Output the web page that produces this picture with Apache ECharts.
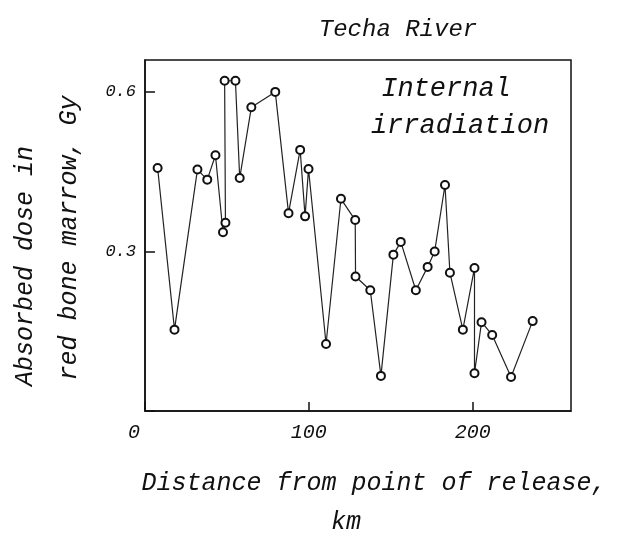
<!DOCTYPE html>
<html><head><meta charset="utf-8">
<script src="https://cdn.jsdelivr.net/npm/echarts@6/dist/echarts.min.js"></script>
<style>html,body{margin:0;padding:0;background:#fff}#c{width:619px;height:536px}</style>
</head><body><div id="c"></div>
<script>
// Distance from point of release, km
const distanceKm = [7.7, 18, 32, 38, 43, 47.6, 49.1, 48.6, 55.2, 57.8, 64.9, 79.5, 87.6, 94.7, 97.7, 99.8,
  110.5, 119.6, 128.3, 128.5, 137.5, 144, 151.6, 156.1, 165.3, 172.5, 176.8, 183.1, 186.1, 194,
  201.1, 201.1, 205.4, 211.9, 223.4, 236.6];
// Absorbed dose in red bone marrow, Gy
const doseGy = [0.457, 0.153, 0.454, 0.435, 0.481, 0.336, 0.354, 0.621, 0.621, 0.438, 0.571, 0.600, 0.372, 0.491, 0.366, 0.455,
  0.126, 0.399, 0.359, 0.253, 0.227, 0.066, 0.294, 0.318, 0.227, 0.271, 0.300, 0.425, 0.260, 0.153,
  0.269, 0.071, 0.167, 0.143, 0.064, 0.169];
const titleText = 'Techa River';
const noteLines = ['Internal', 'irradiation'];
const yNameLines = ['Absorbed dose in', 'red bone marrow, Gy'];
const xNameLines = ['Distance from point of release,', 'km'];

const FONT = 'Liberation Mono';
const chart = echarts.init(document.getElementById('c'), null, {renderer: 'canvas'});
const pts = distanceKm.map((d, i) => [d, doseGy[i]]);
const txt = (text, x, y, size, rot) => ({
  type: 'text', x: x, y: y, rotation: rot || 0,
  style: {text: text, font: 'italic ' + size + 'px "' + FONT + '"', fill: '#111',
    textAlign: 'center', textVerticalAlign: 'middle'}
});
chart.setOption({
  backgroundColor: '#fff',
  animation: false,
  grid: {left: 145, right: 48, top: 60, bottom: 125, show: true, borderColor: '#111', borderWidth: 1.5, backgroundColor: 'transparent'},
  xAxis: {
    type: 'value', min: 0, max: 260, interval: 100,
    axisLine: {show: true, lineStyle: {color: '#111', width: 1.5}},
    axisTick: {show: true, inside: true, length: 9, lineStyle: {color: '#111', width: 1.5}},
    splitLine: {show: false},
    axisLabel: {
      margin: 12, color: '#111', fontFamily: FONT, fontStyle: 'italic', fontSize: 20, showMaxLabel: false,
      formatter: v => v === 0 ? '{z|0}' : (v > 250 ? '' : String(v)),
      rich: {z: {fontFamily: FONT, fontStyle: 'italic', fontSize: 20, color: '#111', padding: [0, 22, 0, 0]}}
    }
  },
  yAxis: {
    type: 'value', min: 0, max: 0.66, interval: 0.3,
    axisLine: {show: true, lineStyle: {color: '#111', width: 1.5}},
    axisTick: {show: true, inside: true, length: 10, lineStyle: {color: '#111', width: 1.5}},
    splitLine: {show: false},
    axisLabel: {
      margin: 9, color: '#111', fontFamily: FONT, fontStyle: 'italic', fontSize: 17, showMaxLabel: false,
      formatter: v => (v === 0 || v > 0.65) ? '' : v.toFixed(1)
    }
  },
  series: [{
    type: 'line', data: pts,
    symbol: 'emptyCircle', symbolSize: 8, showSymbol: true,
    lineStyle: {color: '#222', width: 1.2},
    itemStyle: {color: '#111', borderWidth: 1.3}
  }],
  graphic: [
    txt(titleText, 398, 30, 24),
    txt(noteLines[0], 446, 89, 27),
    txt(noteLines[1], 460, 126, 27),
    txt(yNameLines[0], 25, 266, 25, Math.PI / 2),
    txt(yNameLines[1], 69, 238, 25, Math.PI / 2),
    txt(xNameLines[0], 374, 483, 25),
    txt(xNameLines[1], 346, 522, 25)
  ]
});
</script></body></html>
